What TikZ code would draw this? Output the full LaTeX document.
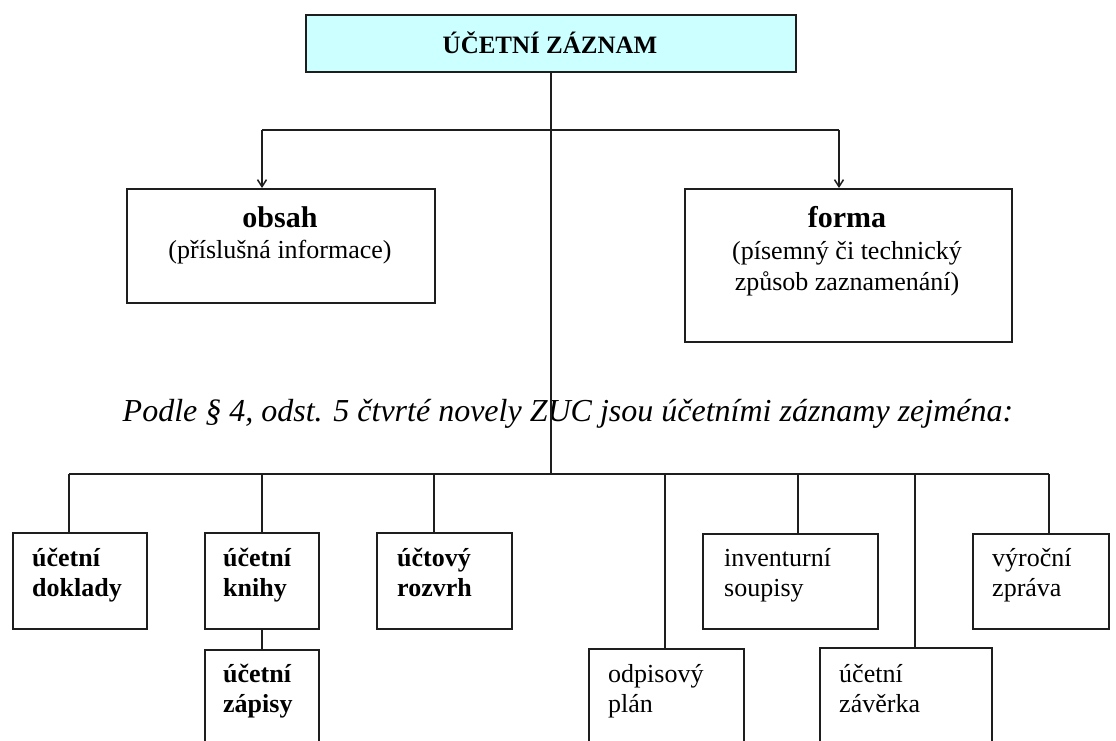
\documentclass[tikz,border=0pt]{standalone}
\usepackage{fontspec}
\setmainfont{Liberation Serif}
\usetikzlibrary{arrows.meta}
\definecolor{boxfill}{HTML}{CCFFFF}
\definecolor{ink}{HTML}{1E1E1E}
\newcommand{\twoln}[2]{\begin{tabular}[t]{@{}l@{}}#1\\#2\end{tabular}}
\begin{document}
\begin{tikzpicture}[x=1pt,y=-1pt,
  frame/.style={draw=ink, line width=1.6pt, rectangle, inner sep=0pt, anchor=north west},
  link/.style={draw=ink, line width=1.5pt},
  arr/.style={link, -{Straight Barb[length=7pt,width=9pt]}},
  lblr/.style={inner sep=0pt, anchor=base west, font=\fontsize{26}{30}\selectfont},
  lblb/.style={inner sep=0pt, anchor=base west, font=\fontsize{26}{30}\selectfont\bfseries},
  ctr/.style={inner sep=0pt, anchor=base, font=\fontsize{26}{30}\selectfont},
  head/.style={inner sep=0pt, anchor=base, font=\fontsize{30}{34}\selectfont\bfseries}]
\useasboundingbox (0,0) rectangle (1116,740);
\clip (0,0) rectangle (1116,740);
\fill[white] (0,0) rectangle (1116,740);

% top
\node[frame, fill=boxfill, minimum width=490pt, minimum height=57pt] (title) at (305,14) {};
\node[inner sep=0pt, anchor=base, font=\fontsize{25}{30}\selectfont\bfseries] (titletxt) at (550,53) {ÚČETNÍ ZÁZNAM};

\node[frame, minimum width=308pt, minimum height=114pt] (obsah) at (126,188) {};
\node[head] (obsahA) at (280,227) {obsah};
\node[ctr] (obsahB) at (280,258) {(příslušná informace)};

\node[frame, minimum width=327pt, minimum height=153pt] (forma) at (684,188) {};
\node[head] (formaA) at (847,227) {forma};
\node[ctr] (formaB) at (847,259) {(písemný či technický};
\node[ctr] (formaC) at (847,290) {způsob zaznamenání)};

\node[inner sep=0pt, anchor=base, font=\fontsize{32}{36}\selectfont\itshape] (note) at (568,421) {Podle § 4, odst. 5 čtvrté novely ZUC jsou účetními záznamy zejména:};

% bottom boxes
\node[frame, minimum width=134pt, minimum height=96pt] (dokl) at (12,532) {};
\node[lblb] (doklT) at (32,566) {\twoln{účetní}{doklady}};
\node[frame, minimum width=114pt, minimum height=96pt] (knihy) at (204,532) {};
\node[lblb] (knihyT) at (223,566) {\twoln{účetní}{knihy}};
\node[frame, minimum width=114pt, minimum height=115pt] (zapisy) at (204,649) {};
\node[lblb] (zapisyT) at (223,682) {\twoln{účetní}{zápisy}};
\node[frame, minimum width=135pt, minimum height=96pt] (rozvrh) at (376,532) {};
\node[lblb] (rozvrhT) at (397,566) {\twoln{účtový}{rozvrh}};
\node[frame, minimum width=155pt, minimum height=115pt] (odpis) at (588,648) {};
\node[lblr] (odpisT) at (608,682) {\twoln{odpisový}{plán}};
\node[frame, minimum width=175pt, minimum height=95pt] (invent) at (702,533) {};
\node[lblr] (inventT) at (724,566) {\twoln{inventurní}{soupisy}};
\node[frame, minimum width=172pt, minimum height=115pt] (zaverka) at (819,647) {};
\node[lblr] (zaverkaT) at (839,682) {\twoln{účetní}{závěrka}};
\node[frame, minimum width=136pt, minimum height=95pt] (vyrocni) at (972,533) {};
\node[lblr] (vyrocniT) at (992,566) {\twoln{výroční}{zpráva}};

% connectors
\coordinate (tL) at (262,130);
\coordinate (tR) at (839,130);
\draw[link] (tL) -- (tR);
\draw[arr] (tL) -- (tL |- obsah.north);
\draw[arr] (tR) -- (tR |- forma.north);

\coordinate (bL) at (69,474);
\coordinate (bR) at (1049,474);
\coordinate (b2) at (262,474);
\coordinate (b3) at (434,474);
\coordinate (b4) at (665,474);
\coordinate (b5) at (798,474);
\coordinate (b6) at (915,474);
\draw[link] (title.south) -- (title.south |- bL);
\draw[link] (bL) -- (bR);
\draw[link] (bL) -- (bL |- dokl.north);
\draw[link] (b2) -- (b2 |- knihy.north);
\draw[link] (b3) -- (b3 |- rozvrh.north);
\draw[link] (b4) -- (b4 |- odpis.north);
\draw[link] (b5) -- (b5 |- invent.north);
\draw[link] (b6) -- (b6 |- zaverka.north);
\draw[link] (bR) -- (bR |- vyrocni.north);
\draw[link] (knihy.south) -- (zapisy.north);
\end{tikzpicture}
\end{document}
